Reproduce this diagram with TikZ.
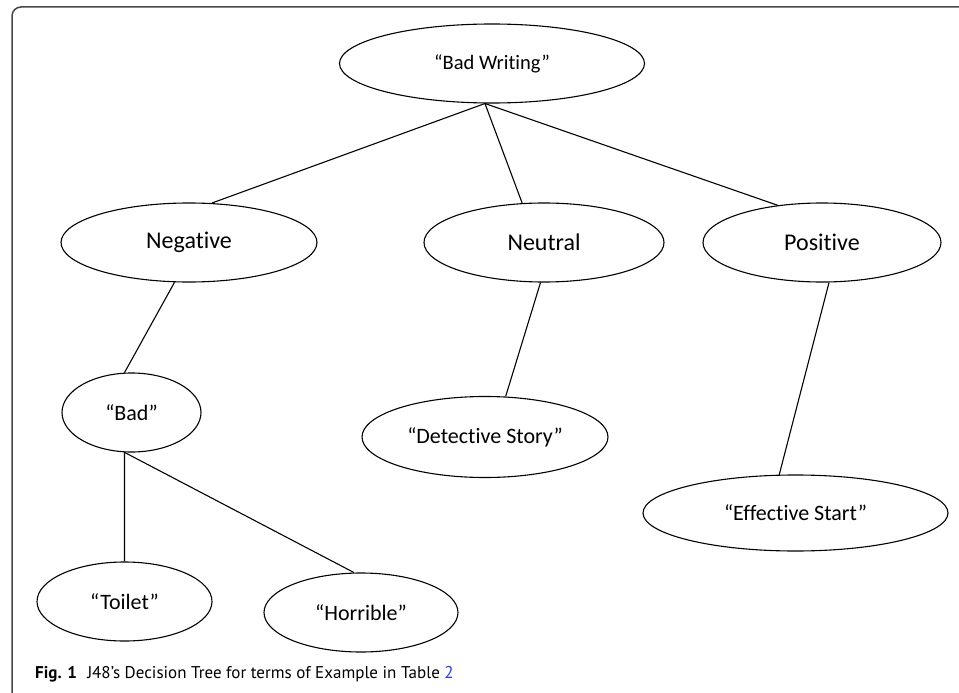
\documentclass[tikz,border=0pt]{standalone}
\usepackage{fontspec}
\setmainfont{Carlito}[Ligatures=NoCommon]
\newfontfamily\capfont{PT Sans}
\usetikzlibrary{shapes.geometric}
\definecolor{framegray}{RGB}{70,70,70}
\definecolor{linkblue}{RGB}{40,60,230}

\begin{document}
\begin{tikzpicture}[x=1pt, y=-1pt,
    term/.style={draw, ellipse, line width=1.1pt, inner sep=0pt,
                 minimum height=79, font=\fontsize{22}{26}\selectfont},
    sense/.style={term, font=\fontsize{24}{28}\selectfont},
    edge/.style={line width=1.1pt}]
  \useasboundingbox (0,0) rectangle (959,693);

  % Frame
  \draw[framegray, line width=1.5pt, rounded corners=9pt]
    (12,710) -- (12,7) -- (975,7);

  % Root
  \node[term, minimum width=305, font=\fontsize{20.5}{24}\selectfont] (bw) at (492,63.5) {“Bad Writing”};

  % Polarity
  \node[sense, minimum width=256] (neg) at (189,242.5) {Negative};
  \node[sense, minimum width=240] (neu) at (544,242.5) {Neutral};
  \node[sense, minimum width=238] (pos) at (822,242.5) {Positive};

  % Terms
  \node[term, minimum width=139] (bad) at (131.5,412.5) {“Bad”};
  \node[term, minimum width=246, minimum height=81] (det) at (485,437) {“Detective Story”};
  \node[term, minimum width=305, minimum height=76] (eff) at (795.5,513) {“Effective Start”};
  \node[term, minimum width=175] (toilet) at (124.5,601.5) {“Toilet”};
  \node[term, minimum width=194] (horr) at (361,612.5) {“Horrible”};

  % Branches
  \draw[edge] (bw.260) -- (neg.60);
  \draw[edge] (bw.260) -- (neu.119);
  \draw[edge] (bw.260) -- (pos.140);
  \draw[edge] (neg.250) -- (bad.100);
  \draw[edge] (neu.265) -- (det.63);
  \draw[edge] (pos.280) -- (eff.113);
  \draw[edge] (bad.260) -- (toilet.north);
  \draw[edge] (bad.260) -- (horr.100);

  % Caption
  \node[anchor=base west, inner sep=0pt, font=\capfont\fontsize{17}{20}\selectfont] (cap) at (35,678)
    {\textbf{Fig. 1}\hspace{0.6em}J48’s Decision Tree for terms of Example in Table \textcolor{linkblue}{2}};
\end{tikzpicture}
\end{document}
